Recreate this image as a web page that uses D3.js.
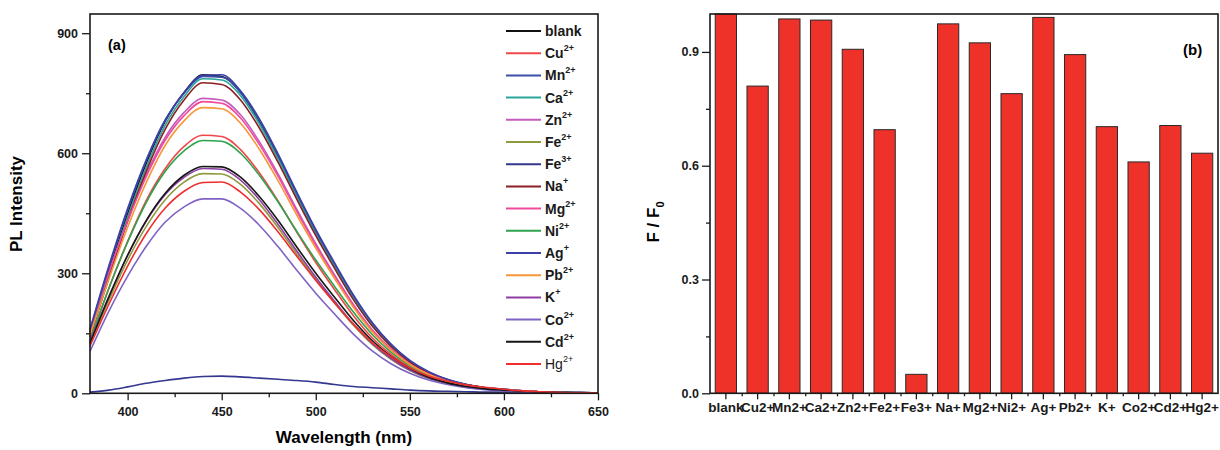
<!DOCTYPE html>
<html><head><meta charset="utf-8">
<script src="https://cdn.jsdelivr.net/npm/d3@7"></script>
<style>
body{margin:0;background:#fff}
svg{display:block}
text{font-family:"Liberation Sans",Arial,Helvetica,sans-serif}
</style>
</head><body>
<svg id="chart" width="1220" height="450"></svg>
<script>
// ---------- data ----------
const wavelengths=[380,390,400,410,420,430,440,450,460,470,480,490,500,510,520,530,540,550,560,570,580,590,600,610,620,630,640,650];
const blankPL=[152,304,448,576,680,752,796,792,752,680,592,496,404,320,240,172,120,80,52,34,22,14,10,6,4,2,2,1];
const cuPL=[128,262,380,483,562,617,645,642,609,551,480,402,327,259,194,139,97,65,42,27,17,12,8,5,3,2,1,1];
const mnPL=[160,318,462,585,684,750,792,790,752,682,594,498,405,322,242,174,121,81,53,34,22,14,10,6,4,2,2,1];
const caPL=[148,298,440,566,670,742,786,783,744,673,585,490,398,316,237,170,118,79,51,33,21,14,9,6,4,2,2,1];
const znPL=[156,300,432,548,640,702,737,733,696,629,548,459,374,296,222,159,111,74,48,31,20,13,9,6,4,2,1,1];
const fe2PL=[122,232,333,418,484,528,549,548,522,474,414,348,285,226,170,122,85,57,37,24,16,10,7,4,3,2,1,1];
const fe3PL=[3,8,16,25,32,38,42,43,41,38,35,32,28,22,17,14,11,8,6,5,4,3,3,2,1,1,1,0];
const naPL=[140,288,430,556,660,733,776,772,733,663,577,484,394,312,234,168,117,78,51,33,21,14,9,6,4,2,2,1];
const mgPL=[160,302,430,543,633,694,729,725,688,622,542,454,370,293,220,157,110,73,48,31,20,13,9,6,4,2,1,1];
const niPL=[132,262,378,478,555,606,632,630,600,545,478,404,333,267,203,147,103,69,45,29,18,12,8,5,3,2,1,1];
const agPL=[158,314,458,582,682,752,795,796,756,686,598,502,410,326,246,177,123,82,54,35,22,14,10,6,4,2,2,1];
const pbPL=[145,285,415,528,620,681,714,711,675,610,531,445,363,287,215,154,108,72,47,30,19,13,9,6,4,2,1,1];
const kPL=[130,242,345,431,497,540,562,560,533,484,422,355,290,230,173,125,87,58,38,25,16,11,7,5,3,2,1,1];
const coPL=[105,205,293,368,428,466,486,486,462,420,366,307,250,198,148,106,74,50,33,22,14,9,6,4,2,1,1,0];
const cdPL=[125,240,345,433,500,545,567,566,540,492,432,365,300,240,182,132,92,62,40,26,17,11,8,5,3,2,1,1];
const hgPL=[118,222,318,400,463,505,527,528,503,459,403,342,282,226,173,127,91,63,43,30,21,15,10,6,4,2,1,1];

const seriesBase=["blank","Cu","Mn","Ca","Zn","Fe","Fe","Na","Mg","Ni","Ag","Pb","K","Co","Cd","Hg"];
const seriesSup=["","2+","2+","2+","2+","2+","3+","+","2+","2+","+","2+","+","2+","2+","2+"];
const seriesColors=["#111111","#f04848","#3b4fa6","#2aa59b","#c45bbf","#8f9a3c","#34378f","#8b1f23","#ef4b9a","#2fa24e","#3b3fa8","#f7963a","#8e3ea3","#7f63c4","#161616","#ef2f2f"];
const seriesData=[blankPL,cuPL,mnPL,caPL,znPL,fe2PL,fe3PL,naPL,mgPL,niPL,agPL,pbPL,kPL,coPL,cdPL,hgPL];

const barCategories=["blank","Cu2+","Mn2+","Ca2+","Zn2+","Fe2+","Fe3+","Na+","Mg2+","Ni2+","Ag+","Pb2+","K+","Co2+","Cd2+","Hg2+"];
const barValues=[1.0,0.81,0.987,0.984,0.907,0.695,0.05,0.974,0.924,0.79,0.991,0.893,0.703,0.61,0.706,0.633];

const plTicks=[0,300,600,900];
const plMinorTicks=[150,450,750];
const wlTicks=[400,450,500,550,600,650];
const wlMinorTicks=[425,475,525,575,625];
const ratioTicks=[0,0.3,0.6,0.9];
const ratioMinorTicks=[0.15,0.45,0.75];
const ratioTickLabels=["0.0","0.3","0.6","0.9"];

// ---------- drawing ----------
const svg=d3.select("#chart");
const FONT='"Liberation Sans",Arial,Helvetica,sans-serif';

function styleAxis(g,size){
  g.select(".domain").remove();
  g.selectAll(".tick line").attr("stroke","#1a1a1a").attr("stroke-width",1.3);
  g.selectAll(".tick text").attr("font-family",FONT).attr("font-weight","bold").attr("font-size",size).attr("fill","#1a1a1a");
}

// Panel (a)
const L={x0:90,x1:598,y0:14,y1:393.3};
const x=d3.scaleLinear().domain([380,650]).range([L.x0,L.x1]);
const y=d3.scaleLinear().domain([0,948]).range([L.y1,L.y0]);

const gA=svg.append("g");
const line=d3.line().x((d,i)=>x(wavelengths[i])).y(d=>y(d)).curve(d3.curveMonotoneX);
seriesData.forEach((s,i)=>{
  gA.append("path").datum(s).attr("d",line).attr("fill","none")
    .attr("stroke",seriesColors[i]).attr("stroke-width",1.6);
});

gA.append("g").attr("transform",`translate(0,${L.y1})`)
  .call(d3.axisBottom(x).tickValues(wlTicks).tickSize(7).tickPadding(7).tickFormat(d3.format("d")))
  .call(g=>styleAxis(g,12.5));
gA.append("g").attr("transform",`translate(0,${L.y1})`)
  .call(d3.axisBottom(x).tickValues(wlMinorTicks).tickSize(4).tickFormat(""))
  .call(g=>styleAxis(g,12));
gA.append("g").attr("transform",`translate(${L.x0},0)`)
  .call(d3.axisLeft(y).tickValues(plTicks).tickSize(8).tickPadding(4).tickFormat(d3.format("d")))
  .call(g=>styleAxis(g,12.5));
gA.append("g").attr("transform",`translate(${L.x0},0)`)
  .call(d3.axisLeft(y).tickValues(plMinorTicks).tickSize(4).tickFormat(""))
  .call(g=>styleAxis(g,12));

gA.append("rect").attr("x",L.x0).attr("y",L.y0).attr("width",L.x1-L.x0).attr("height",L.y1-L.y0)
  .attr("fill","none").attr("stroke","#1a1a1a").attr("stroke-width",1.6);

gA.append("text").attr("x",108).attr("y",50).attr("font-weight","bold").attr("font-size",14.5).text("(a)");

gA.append("text").attr("transform","translate(22,204) rotate(-90)").attr("text-anchor","middle")
  .attr("font-weight","bold").attr("font-size",17).text("PL Intensity");
gA.append("text").attr("x",344).attr("y",443).attr("text-anchor","middle")
  .attr("font-weight","bold").attr("font-size",17).text("Wavelength (nm)");

// legend
const leg=gA.append("g");
seriesBase.forEach((b,i)=>{
  const yy=31+i*22.2;
  leg.append("line").attr("x1",506).attr("x2",541).attr("y1",yy).attr("y2",yy)
    .attr("stroke",seriesColors[i]).attr("stroke-width",2);
  const t=leg.append("text").attr("x",545).attr("y",yy+5).attr("font-size",14)
    .attr("font-weight",i===15?"normal":"bold").attr("fill","#1a1a1a");
  t.append("tspan").text(b);
  if(seriesSup[i]) t.append("tspan").attr("dy",-7).attr("font-size",9).text(seriesSup[i]);
});

// Panel (b)
const R={x0:710,x1:1218,y0:14,y1:393.3};
const xb=d3.scaleBand().domain(barCategories).range([R.x0,R.x1]).paddingInner(0.33).paddingOuter(0.165);
const xl=d3.scaleLinear().domain([0,barCategories.length]).range([R.x0,R.x1]);
const yb=d3.scaleLinear().domain([0,1]).range([R.y1,R.y0]);

const gB=svg.append("g");
gB.selectAll("rect.bar").data(barValues).enter().append("rect").attr("class","bar")
  .attr("x",(d,i)=>xb(barCategories[i])).attr("width",xb.bandwidth())
  .attr("y",d=>yb(d)).attr("height",d=>yb(0)-yb(d))
  .attr("fill","#ee3129").attr("stroke","#2a2a2a").attr("stroke-width",1);

gB.append("g").attr("transform",`translate(0,${R.y1})`)
  .call(d3.axisBottom(xb).tickSize(6).tickPadding(3))
  .call(g=>styleAxis(g,13.5));
gB.append("g").attr("transform",`translate(0,${R.y1})`)
  .call(d3.axisBottom(xl).tickValues(d3.range(1,barCategories.length)).tickSize(3).tickFormat(""))
  .call(g=>styleAxis(g,12));
gB.append("g").attr("transform",`translate(${R.x0},0)`)
  .call(d3.axisLeft(yb).tickValues(ratioTicks).tickSize(8).tickPadding(3).tickFormat((d,i)=>ratioTickLabels[i]))
  .call(g=>styleAxis(g,12.5));
gB.append("g").attr("transform",`translate(${R.x0},0)`)
  .call(d3.axisLeft(yb).tickValues(ratioMinorTicks).tickSize(4).tickFormat(""))
  .call(g=>styleAxis(g,12));

gB.append("rect").attr("x",R.x0).attr("y",R.y0).attr("width",R.x1-R.x0).attr("height",R.y1-R.y0)
  .attr("fill","none").attr("stroke","#1a1a1a").attr("stroke-width",1.6);

gB.append("text").attr("x",1183).attr("y",55).attr("font-weight","bold").attr("font-size",15).text("(b)");

const fy=gB.append("text").attr("transform","translate(659,222) rotate(-90)").attr("text-anchor","middle")
  .attr("font-weight","bold").attr("font-size",17);
fy.append("tspan").text("F / F");
fy.append("tspan").attr("dy",5).attr("font-size",11).text("0");
</script>
</body></html>
